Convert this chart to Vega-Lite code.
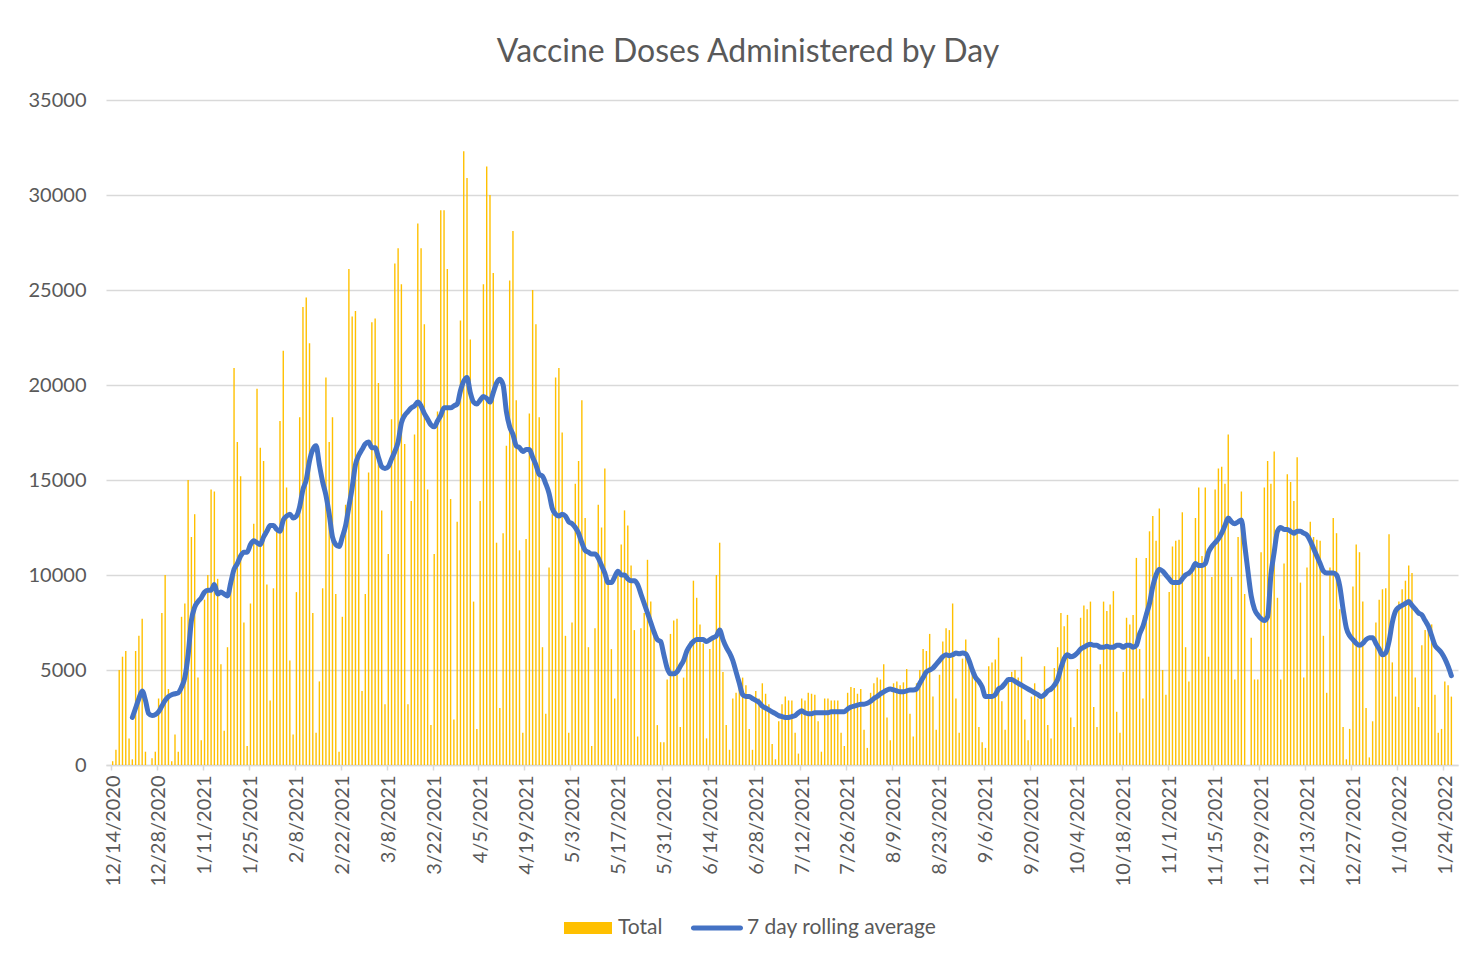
{
"$schema": "https://vega.github.io/schema/vega-lite/v6.json",
"width": 1352, "height": 665,
"autosize": {"type": "none"},
"padding": {"left": 106, "top": 100, "right": 24, "bottom": 197},
"background": "white",
"config": {"font": "Lato", "view": {"stroke": null}},
"title": {"text": "Vaccine Doses Administered by Day", "fontSize": 32, "fontWeight": "normal", "color": "#595959", "font": "Lato", "anchor": "middle", "frame": "group", "dx": -34, "offset": 21},
"data": {"values": [
{"date":"2020-12-14","total":200,"avg":null},
{"date":"2020-12-15","total":800,"avg":null},
{"date":"2020-12-16","total":5000,"avg":null},
{"date":"2020-12-17","total":5700,"avg":null},
{"date":"2020-12-18","total":6000,"avg":null},
{"date":"2020-12-19","total":1400,"avg":null},
{"date":"2020-12-20","total":300,"avg":2500},
{"date":"2020-12-21","total":6000,"avg":3000},
{"date":"2020-12-22","total":6800,"avg":3500},
{"date":"2020-12-23","total":7700,"avg":3900},
{"date":"2020-12-24","total":700,"avg":3400},
{"date":"2020-12-25","total":0,"avg":2700},
{"date":"2020-12-26","total":350,"avg":2600},
{"date":"2020-12-27","total":700,"avg":2650},
{"date":"2020-12-28","total":3500,"avg":2800},
{"date":"2020-12-29","total":8000,"avg":3100},
{"date":"2020-12-30","total":10000,"avg":3400},
{"date":"2020-12-31","total":4000,"avg":3600},
{"date":"2021-01-01","total":200,"avg":3700},
{"date":"2021-01-02","total":1600,"avg":3750},
{"date":"2021-01-03","total":700,"avg":3800},
{"date":"2021-01-04","total":7800,"avg":4100},
{"date":"2021-01-05","total":8500,"avg":4600},
{"date":"2021-01-06","total":15000,"avg":5800},
{"date":"2021-01-07","total":12000,"avg":7600},
{"date":"2021-01-08","total":13200,"avg":8300},
{"date":"2021-01-09","total":4600,"avg":8600},
{"date":"2021-01-10","total":1300,"avg":8800},
{"date":"2021-01-11","total":8700,"avg":9100},
{"date":"2021-01-12","total":10000,"avg":9200},
{"date":"2021-01-13","total":14500,"avg":9200},
{"date":"2021-01-14","total":14400,"avg":9500},
{"date":"2021-01-15","total":9800,"avg":9000},
{"date":"2021-01-16","total":5300,"avg":9100},
{"date":"2021-01-17","total":1800,"avg":9000},
{"date":"2021-01-18","total":6200,"avg":8900},
{"date":"2021-01-19","total":10000,"avg":9600},
{"date":"2021-01-20","total":20900,"avg":10300},
{"date":"2021-01-21","total":17000,"avg":10600},
{"date":"2021-01-22","total":15200,"avg":11000},
{"date":"2021-01-23","total":7500,"avg":11200},
{"date":"2021-01-24","total":1000,"avg":11200},
{"date":"2021-01-25","total":8500,"avg":11600},
{"date":"2021-01-26","total":12700,"avg":11800},
{"date":"2021-01-27","total":19800,"avg":11700},
{"date":"2021-01-28","total":16700,"avg":11600},
{"date":"2021-01-29","total":16000,"avg":12000},
{"date":"2021-01-30","total":9500,"avg":12300},
{"date":"2021-01-31","total":3400,"avg":12600},
{"date":"2021-02-01","total":9300,"avg":12600},
{"date":"2021-02-02","total":12400,"avg":12400},
{"date":"2021-02-03","total":18100,"avg":12300},
{"date":"2021-02-04","total":21800,"avg":12900},
{"date":"2021-02-05","total":14600,"avg":13100},
{"date":"2021-02-06","total":5500,"avg":13200},
{"date":"2021-02-07","total":1600,"avg":13000},
{"date":"2021-02-08","total":9100,"avg":13100},
{"date":"2021-02-09","total":18300,"avg":13600},
{"date":"2021-02-10","total":24100,"avg":14500},
{"date":"2021-02-11","total":24600,"avg":15000},
{"date":"2021-02-12","total":22200,"avg":16000},
{"date":"2021-02-13","total":8000,"avg":16600},
{"date":"2021-02-14","total":1700,"avg":16800},
{"date":"2021-02-15","total":4400,"avg":15800},
{"date":"2021-02-16","total":9300,"avg":14900},
{"date":"2021-02-17","total":20400,"avg":14200},
{"date":"2021-02-18","total":17000,"avg":13200},
{"date":"2021-02-19","total":18300,"avg":12000},
{"date":"2021-02-20","total":9000,"avg":11600},
{"date":"2021-02-21","total":700,"avg":11500},
{"date":"2021-02-22","total":7800,"avg":12000},
{"date":"2021-02-23","total":13700,"avg":12600},
{"date":"2021-02-24","total":26100,"avg":13600},
{"date":"2021-02-25","total":23600,"avg":14600},
{"date":"2021-02-26","total":23900,"avg":15800},
{"date":"2021-02-27","total":16400,"avg":16300},
{"date":"2021-02-28","total":3900,"avg":16600},
{"date":"2021-03-01","total":9000,"avg":16900},
{"date":"2021-03-02","total":15400,"avg":17000},
{"date":"2021-03-03","total":23300,"avg":16700},
{"date":"2021-03-04","total":23500,"avg":16700},
{"date":"2021-03-05","total":20100,"avg":16200},
{"date":"2021-03-06","total":13400,"avg":15700},
{"date":"2021-03-07","total":3200,"avg":15600},
{"date":"2021-03-08","total":11100,"avg":15700},
{"date":"2021-03-09","total":18200,"avg":16100},
{"date":"2021-03-10","total":26400,"avg":16500},
{"date":"2021-03-11","total":27200,"avg":17000},
{"date":"2021-03-12","total":25300,"avg":18000},
{"date":"2021-03-13","total":16900,"avg":18400},
{"date":"2021-03-14","total":3200,"avg":18600},
{"date":"2021-03-15","total":13900,"avg":18800},
{"date":"2021-03-16","total":17400,"avg":18900},
{"date":"2021-03-17","total":28500,"avg":19100},
{"date":"2021-03-18","total":27200,"avg":18900},
{"date":"2021-03-19","total":23200,"avg":18500},
{"date":"2021-03-20","total":14500,"avg":18200},
{"date":"2021-03-21","total":2100,"avg":17900},
{"date":"2021-03-22","total":11100,"avg":17800},
{"date":"2021-03-23","total":18600,"avg":18100},
{"date":"2021-03-24","total":29200,"avg":18400},
{"date":"2021-03-25","total":29200,"avg":18800},
{"date":"2021-03-26","total":26100,"avg":18800},
{"date":"2021-03-27","total":14000,"avg":18800},
{"date":"2021-03-28","total":2400,"avg":18900},
{"date":"2021-03-29","total":12800,"avg":19000},
{"date":"2021-03-30","total":23400,"avg":19700},
{"date":"2021-03-31","total":32300,"avg":20200},
{"date":"2021-04-01","total":30900,"avg":20400},
{"date":"2021-04-02","total":22400,"avg":19600},
{"date":"2021-04-03","total":8600,"avg":19100},
{"date":"2021-04-04","total":1900,"avg":19000},
{"date":"2021-04-05","total":13900,"avg":19200},
{"date":"2021-04-06","total":25300,"avg":19400},
{"date":"2021-04-07","total":31500,"avg":19300},
{"date":"2021-04-08","total":30000,"avg":19100},
{"date":"2021-04-09","total":25900,"avg":19600},
{"date":"2021-04-10","total":11700,"avg":20100},
{"date":"2021-04-11","total":3000,"avg":20300},
{"date":"2021-04-12","total":12200,"avg":20000},
{"date":"2021-04-13","total":16800,"avg":18600},
{"date":"2021-04-14","total":25500,"avg":17800},
{"date":"2021-04-15","total":28100,"avg":17400},
{"date":"2021-04-16","total":19200,"avg":16800},
{"date":"2021-04-17","total":11300,"avg":16700},
{"date":"2021-04-18","total":1700,"avg":16500},
{"date":"2021-04-19","total":11900,"avg":16600},
{"date":"2021-04-20","total":18500,"avg":16600},
{"date":"2021-04-21","total":25000,"avg":16200},
{"date":"2021-04-22","total":23200,"avg":15800},
{"date":"2021-04-23","total":18300,"avg":15300},
{"date":"2021-04-24","total":6200,"avg":15200},
{"date":"2021-04-25","total":2700,"avg":14800},
{"date":"2021-04-26","total":10400,"avg":14300},
{"date":"2021-04-27","total":13200,"avg":13500},
{"date":"2021-04-28","total":20400,"avg":13200},
{"date":"2021-04-29","total":20900,"avg":13100},
{"date":"2021-04-30","total":17500,"avg":13200},
{"date":"2021-05-01","total":6800,"avg":13100},
{"date":"2021-05-02","total":1700,"avg":12800},
{"date":"2021-05-03","total":7500,"avg":12700},
{"date":"2021-05-04","total":14800,"avg":12500},
{"date":"2021-05-05","total":16000,"avg":12200},
{"date":"2021-05-06","total":19200,"avg":11700},
{"date":"2021-05-07","total":13000,"avg":11300},
{"date":"2021-05-08","total":6200,"avg":11200},
{"date":"2021-05-09","total":1000,"avg":11100},
{"date":"2021-05-10","total":7200,"avg":11100},
{"date":"2021-05-11","total":13700,"avg":10900},
{"date":"2021-05-12","total":12500,"avg":10500},
{"date":"2021-05-13","total":15600,"avg":10100},
{"date":"2021-05-14","total":9700,"avg":9600},
{"date":"2021-05-15","total":6100,"avg":9600},
{"date":"2021-05-16","total":3500,"avg":9900},
{"date":"2021-05-17","total":10100,"avg":10200},
{"date":"2021-05-18","total":11600,"avg":10000},
{"date":"2021-05-19","total":13400,"avg":10000},
{"date":"2021-05-20","total":12600,"avg":9800},
{"date":"2021-05-21","total":10500,"avg":9700},
{"date":"2021-05-22","total":7100,"avg":9700},
{"date":"2021-05-23","total":1500,"avg":9500},
{"date":"2021-05-24","total":7200,"avg":9000},
{"date":"2021-05-25","total":8000,"avg":8500},
{"date":"2021-05-26","total":10800,"avg":8000},
{"date":"2021-05-27","total":8600,"avg":7500},
{"date":"2021-05-28","total":6800,"avg":7000},
{"date":"2021-05-29","total":2100,"avg":6600},
{"date":"2021-05-30","total":1200,"avg":6500},
{"date":"2021-05-31","total":1200,"avg":5800},
{"date":"2021-06-01","total":4500,"avg":5100},
{"date":"2021-06-02","total":6900,"avg":4800},
{"date":"2021-06-03","total":7600,"avg":4800},
{"date":"2021-06-04","total":7700,"avg":4900},
{"date":"2021-06-05","total":2000,"avg":5200},
{"date":"2021-06-06","total":4600,"avg":5500},
{"date":"2021-06-07","total":6100,"avg":6000},
{"date":"2021-06-08","total":6500,"avg":6300},
{"date":"2021-06-09","total":9700,"avg":6500},
{"date":"2021-06-10","total":8800,"avg":6600},
{"date":"2021-06-11","total":7400,"avg":6600},
{"date":"2021-06-12","total":6400,"avg":6600},
{"date":"2021-06-13","total":1400,"avg":6500},
{"date":"2021-06-14","total":6100,"avg":6600},
{"date":"2021-06-15","total":6700,"avg":6700},
{"date":"2021-06-16","total":10000,"avg":6800},
{"date":"2021-06-17","total":11700,"avg":7100},
{"date":"2021-06-18","total":4900,"avg":6600},
{"date":"2021-06-19","total":2100,"avg":6200},
{"date":"2021-06-20","total":800,"avg":5900},
{"date":"2021-06-21","total":3500,"avg":5500},
{"date":"2021-06-22","total":3800,"avg":4900},
{"date":"2021-06-23","total":4200,"avg":4300},
{"date":"2021-06-24","total":4600,"avg":3700},
{"date":"2021-06-25","total":4200,"avg":3600},
{"date":"2021-06-26","total":1900,"avg":3600},
{"date":"2021-06-27","total":800,"avg":3500},
{"date":"2021-06-28","total":3900,"avg":3400},
{"date":"2021-06-29","total":3500,"avg":3300},
{"date":"2021-06-30","total":4300,"avg":3100},
{"date":"2021-07-01","total":3750,"avg":3000},
{"date":"2021-07-02","total":3200,"avg":2900},
{"date":"2021-07-03","total":1100,"avg":2800},
{"date":"2021-07-04","total":300,"avg":2700},
{"date":"2021-07-05","total":2300,"avg":2600},
{"date":"2021-07-06","total":3200,"avg":2550},
{"date":"2021-07-07","total":3600,"avg":2500},
{"date":"2021-07-08","total":3400,"avg":2500},
{"date":"2021-07-09","total":3400,"avg":2550},
{"date":"2021-07-10","total":1700,"avg":2600},
{"date":"2021-07-11","total":600,"avg":2750},
{"date":"2021-07-12","total":3500,"avg":2850},
{"date":"2021-07-13","total":3400,"avg":2750},
{"date":"2021-07-14","total":3800,"avg":2700},
{"date":"2021-07-15","total":3750,"avg":2700},
{"date":"2021-07-16","total":3700,"avg":2750},
{"date":"2021-07-17","total":2300,"avg":2750},
{"date":"2021-07-18","total":700,"avg":2750},
{"date":"2021-07-19","total":3500,"avg":2750},
{"date":"2021-07-20","total":3500,"avg":2750},
{"date":"2021-07-21","total":3400,"avg":2800},
{"date":"2021-07-22","total":3400,"avg":2800},
{"date":"2021-07-23","total":3400,"avg":2800},
{"date":"2021-07-24","total":1700,"avg":2800},
{"date":"2021-07-25","total":1000,"avg":2800},
{"date":"2021-07-26","total":3800,"avg":2950},
{"date":"2021-07-27","total":4100,"avg":3050},
{"date":"2021-07-28","total":4050,"avg":3100},
{"date":"2021-07-29","total":3750,"avg":3150},
{"date":"2021-07-30","total":4000,"avg":3200},
{"date":"2021-07-31","total":1850,"avg":3200},
{"date":"2021-08-01","total":900,"avg":3250},
{"date":"2021-08-02","total":3800,"avg":3350},
{"date":"2021-08-03","total":4300,"avg":3500},
{"date":"2021-08-04","total":4600,"avg":3600},
{"date":"2021-08-05","total":4500,"avg":3750},
{"date":"2021-08-06","total":5300,"avg":3850},
{"date":"2021-08-07","total":2500,"avg":3950},
{"date":"2021-08-08","total":1300,"avg":4000},
{"date":"2021-08-09","total":4300,"avg":3950},
{"date":"2021-08-10","total":4400,"avg":3900},
{"date":"2021-08-11","total":4200,"avg":3850},
{"date":"2021-08-12","total":4350,"avg":3850},
{"date":"2021-08-13","total":5050,"avg":3900},
{"date":"2021-08-14","total":2700,"avg":3950},
{"date":"2021-08-15","total":1500,"avg":3950},
{"date":"2021-08-16","total":4300,"avg":4000},
{"date":"2021-08-17","total":5000,"avg":4300},
{"date":"2021-08-18","total":6100,"avg":4600},
{"date":"2021-08-19","total":6000,"avg":4900},
{"date":"2021-08-20","total":6900,"avg":5000},
{"date":"2021-08-21","total":3600,"avg":5100},
{"date":"2021-08-22","total":1850,"avg":5300},
{"date":"2021-08-23","total":4750,"avg":5500},
{"date":"2021-08-24","total":6500,"avg":5700},
{"date":"2021-08-25","total":7200,"avg":5800},
{"date":"2021-08-26","total":7100,"avg":5750},
{"date":"2021-08-27","total":8500,"avg":5800},
{"date":"2021-08-28","total":3500,"avg":5900},
{"date":"2021-08-29","total":1700,"avg":5850},
{"date":"2021-08-30","total":5600,"avg":5900},
{"date":"2021-08-31","total":6600,"avg":5850},
{"date":"2021-09-01","total":5600,"avg":5500},
{"date":"2021-09-02","total":5300,"avg":5000},
{"date":"2021-09-03","total":4600,"avg":4600},
{"date":"2021-09-04","total":2000,"avg":4400},
{"date":"2021-09-05","total":1200,"avg":4100},
{"date":"2021-09-06","total":900,"avg":3600},
{"date":"2021-09-07","total":5200,"avg":3600},
{"date":"2021-09-08","total":5400,"avg":3600},
{"date":"2021-09-09","total":5550,"avg":3700},
{"date":"2021-09-10","total":6700,"avg":4000},
{"date":"2021-09-11","total":3350,"avg":4100},
{"date":"2021-09-12","total":1850,"avg":4300},
{"date":"2021-09-13","total":4500,"avg":4500},
{"date":"2021-09-14","total":4900,"avg":4500},
{"date":"2021-09-15","total":5000,"avg":4400},
{"date":"2021-09-16","total":4600,"avg":4300},
{"date":"2021-09-17","total":5700,"avg":4200},
{"date":"2021-09-18","total":2400,"avg":4100},
{"date":"2021-09-19","total":1300,"avg":4000},
{"date":"2021-09-20","total":3600,"avg":3900},
{"date":"2021-09-21","total":4300,"avg":3800},
{"date":"2021-09-22","total":3500,"avg":3700},
{"date":"2021-09-23","total":3500,"avg":3600},
{"date":"2021-09-24","total":5200,"avg":3700},
{"date":"2021-09-25","total":2100,"avg":3900},
{"date":"2021-09-26","total":1400,"avg":4000},
{"date":"2021-09-27","total":5100,"avg":4200},
{"date":"2021-09-28","total":6200,"avg":4500},
{"date":"2021-09-29","total":8000,"avg":5100},
{"date":"2021-09-30","total":7300,"avg":5600},
{"date":"2021-10-01","total":7900,"avg":5800},
{"date":"2021-10-02","total":2500,"avg":5700},
{"date":"2021-10-03","total":2000,"avg":5750},
{"date":"2021-10-04","total":5050,"avg":5900},
{"date":"2021-10-05","total":7750,"avg":6100},
{"date":"2021-10-06","total":8400,"avg":6200},
{"date":"2021-10-07","total":8200,"avg":6300},
{"date":"2021-10-08","total":8600,"avg":6350},
{"date":"2021-10-09","total":3050,"avg":6300},
{"date":"2021-10-10","total":2000,"avg":6300},
{"date":"2021-10-11","total":5300,"avg":6200},
{"date":"2021-10-12","total":8600,"avg":6200},
{"date":"2021-10-13","total":8100,"avg":6250},
{"date":"2021-10-14","total":8450,"avg":6200},
{"date":"2021-10-15","total":9150,"avg":6200},
{"date":"2021-10-16","total":2800,"avg":6300},
{"date":"2021-10-17","total":1700,"avg":6300},
{"date":"2021-10-18","total":4900,"avg":6200},
{"date":"2021-10-19","total":7750,"avg":6300},
{"date":"2021-10-20","total":7400,"avg":6300},
{"date":"2021-10-21","total":7900,"avg":6200},
{"date":"2021-10-22","total":10900,"avg":6300},
{"date":"2021-10-23","total":6100,"avg":6900},
{"date":"2021-10-24","total":3500,"avg":7300},
{"date":"2021-10-25","total":10900,"avg":7900},
{"date":"2021-10-26","total":12300,"avg":8500},
{"date":"2021-10-27","total":13100,"avg":9400},
{"date":"2021-10-28","total":11800,"avg":10000},
{"date":"2021-10-29","total":13500,"avg":10300},
{"date":"2021-10-30","total":5000,"avg":10200},
{"date":"2021-10-31","total":3700,"avg":10000},
{"date":"2021-11-01","total":9100,"avg":9800},
{"date":"2021-11-02","total":11500,"avg":9600},
{"date":"2021-11-03","total":11800,"avg":9600},
{"date":"2021-11-04","total":11850,"avg":9600},
{"date":"2021-11-05","total":13300,"avg":9800},
{"date":"2021-11-06","total":6200,"avg":10000},
{"date":"2021-11-07","total":4400,"avg":10100},
{"date":"2021-11-08","total":10400,"avg":10300},
{"date":"2021-11-09","total":13000,"avg":10600},
{"date":"2021-11-10","total":14600,"avg":10500},
{"date":"2021-11-11","total":11000,"avg":10500},
{"date":"2021-11-12","total":14600,"avg":10600},
{"date":"2021-11-13","total":5700,"avg":11200},
{"date":"2021-11-14","total":9900,"avg":11500},
{"date":"2021-11-15","total":14500,"avg":11700},
{"date":"2021-11-16","total":15600,"avg":11900},
{"date":"2021-11-17","total":15700,"avg":12200},
{"date":"2021-11-18","total":14800,"avg":12600},
{"date":"2021-11-19","total":17400,"avg":13000},
{"date":"2021-11-20","total":9900,"avg":12800},
{"date":"2021-11-21","total":4500,"avg":12700},
{"date":"2021-11-22","total":12000,"avg":12800},
{"date":"2021-11-23","total":14400,"avg":12900},
{"date":"2021-11-24","total":9000,"avg":11600},
{"date":"2021-11-25","total":0,"avg":10200},
{"date":"2021-11-26","total":6700,"avg":8900},
{"date":"2021-11-27","total":4500,"avg":8200},
{"date":"2021-11-28","total":4500,"avg":7900},
{"date":"2021-11-29","total":11200,"avg":7700},
{"date":"2021-11-30","total":14600,"avg":7600},
{"date":"2021-12-01","total":16000,"avg":7800},
{"date":"2021-12-02","total":14800,"avg":10000},
{"date":"2021-12-03","total":16500,"avg":11200},
{"date":"2021-12-04","total":8800,"avg":12300},
{"date":"2021-12-05","total":4500,"avg":12500},
{"date":"2021-12-06","total":10600,"avg":12400},
{"date":"2021-12-07","total":15300,"avg":12400},
{"date":"2021-12-08","total":14900,"avg":12300},
{"date":"2021-12-09","total":13900,"avg":12200},
{"date":"2021-12-10","total":16200,"avg":12300},
{"date":"2021-12-11","total":9600,"avg":12300},
{"date":"2021-12-12","total":4600,"avg":12200},
{"date":"2021-12-13","total":10400,"avg":12100},
{"date":"2021-12-14","total":12800,"avg":11800},
{"date":"2021-12-15","total":12000,"avg":11400},
{"date":"2021-12-16","total":11850,"avg":11000},
{"date":"2021-12-17","total":11800,"avg":10600},
{"date":"2021-12-18","total":6800,"avg":10200},
{"date":"2021-12-19","total":3800,"avg":10100},
{"date":"2021-12-20","total":10400,"avg":10100},
{"date":"2021-12-21","total":13000,"avg":10100},
{"date":"2021-12-22","total":12200,"avg":10000},
{"date":"2021-12-23","total":8200,"avg":9400},
{"date":"2021-12-24","total":2000,"avg":8200},
{"date":"2021-12-25","total":300,"avg":7200},
{"date":"2021-12-26","total":1900,"avg":6800},
{"date":"2021-12-27","total":9400,"avg":6600},
{"date":"2021-12-28","total":11600,"avg":6400},
{"date":"2021-12-29","total":11200,"avg":6300},
{"date":"2021-12-30","total":8600,"avg":6400},
{"date":"2021-12-31","total":3000,"avg":6600},
{"date":"2022-01-01","total":400,"avg":6700},
{"date":"2022-01-02","total":2300,"avg":6700},
{"date":"2022-01-03","total":7500,"avg":6400},
{"date":"2022-01-04","total":8700,"avg":6100},
{"date":"2022-01-05","total":9250,"avg":5800},
{"date":"2022-01-06","total":9300,"avg":5900},
{"date":"2022-01-07","total":12150,"avg":6500},
{"date":"2022-01-08","total":5400,"avg":7500},
{"date":"2022-01-09","total":3600,"avg":8100},
{"date":"2022-01-10","total":8600,"avg":8300},
{"date":"2022-01-11","total":9250,"avg":8400},
{"date":"2022-01-12","total":9700,"avg":8500},
{"date":"2022-01-13","total":10500,"avg":8600},
{"date":"2022-01-14","total":10100,"avg":8400},
{"date":"2022-01-15","total":4600,"avg":8200},
{"date":"2022-01-16","total":3050,"avg":8000},
{"date":"2022-01-17","total":6300,"avg":7900},
{"date":"2022-01-18","total":7100,"avg":7600},
{"date":"2022-01-19","total":7450,"avg":7300},
{"date":"2022-01-20","total":7400,"avg":6800},
{"date":"2022-01-21","total":3700,"avg":6300},
{"date":"2022-01-22","total":1700,"avg":6100},
{"date":"2022-01-23","total":1900,"avg":5900},
{"date":"2022-01-24","total":4400,"avg":5600},
{"date":"2022-01-25","total":4200,"avg":5200},
{"date":"2022-01-26","total":3600,"avg":4700}
]},
"layer": [
{"mark": {"type": "bar", "width": 1.4, "xOffset": 1.65},
 "encoding": {
  "x": {"field": "date", "type": "temporal",
   "scale": {"type": "utc", "domain": [{"year": 2020, "month": 12, "date": 14, "utc": true}, {"year": 2022, "month": 1, "date": 27, "utc": true}]},
   "axis": {"title": null, "grid": false, "format": "%-m/%-d/%Y", "labelAngle": 270, "labelAlign": "right", "labelBaseline": "middle", "labelFontSize": 20, "labelColor": "#595959", "labelFont": "Lato", "labelPadding": 5, "labelOffset": 2, "labelOverlap": false, "labelFlush": false, "labelBound": false, "tickSize": 5, "tickColor": "#d9d9d9", "tickWidth": 1.5, "domainColor": "#d9d9d9", "domainWidth": 1.5,
    "values": [
     {"year": 2020, "month": 12, "date": 14, "utc": true},
     {"year": 2020, "month": 12, "date": 28, "utc": true},
     {"year": 2021, "month": 1, "date": 11, "utc": true},
     {"year": 2021, "month": 1, "date": 25, "utc": true},
     {"year": 2021, "month": 2, "date": 8, "utc": true},
     {"year": 2021, "month": 2, "date": 22, "utc": true},
     {"year": 2021, "month": 3, "date": 8, "utc": true},
     {"year": 2021, "month": 3, "date": 22, "utc": true},
     {"year": 2021, "month": 4, "date": 5, "utc": true},
     {"year": 2021, "month": 4, "date": 19, "utc": true},
     {"year": 2021, "month": 5, "date": 3, "utc": true},
     {"year": 2021, "month": 5, "date": 17, "utc": true},
     {"year": 2021, "month": 5, "date": 31, "utc": true},
     {"year": 2021, "month": 6, "date": 14, "utc": true},
     {"year": 2021, "month": 6, "date": 28, "utc": true},
     {"year": 2021, "month": 7, "date": 12, "utc": true},
     {"year": 2021, "month": 7, "date": 26, "utc": true},
     {"year": 2021, "month": 8, "date": 9, "utc": true},
     {"year": 2021, "month": 8, "date": 23, "utc": true},
     {"year": 2021, "month": 9, "date": 6, "utc": true},
     {"year": 2021, "month": 9, "date": 20, "utc": true},
     {"year": 2021, "month": 10, "date": 4, "utc": true},
     {"year": 2021, "month": 10, "date": 18, "utc": true},
     {"year": 2021, "month": 11, "date": 1, "utc": true},
     {"year": 2021, "month": 11, "date": 15, "utc": true},
     {"year": 2021, "month": 11, "date": 29, "utc": true},
     {"year": 2021, "month": 12, "date": 13, "utc": true},
     {"year": 2021, "month": 12, "date": 27, "utc": true},
     {"year": 2022, "month": 1, "date": 10, "utc": true},
     {"year": 2022, "month": 1, "date": 24, "utc": true}
    ]}},
  "y": {"field": "total", "type": "quantitative",
   "scale": {"domain": [0, 35000], "nice": false},
   "axis": {"title": null, "values": [0, 5000, 10000, 15000, 20000, 25000, 30000, 35000], "format": "d", "grid": true, "gridColor": "#d9d9d9", "gridWidth": 1.5, "domain": false, "ticks": false, "labelPadding": 20, "labelFontSize": 20, "labelColor": "#595959", "labelFont": "Lato"}},
  "color": {"datum": "Total", "type": "nominal",
   "scale": {"domain": ["Total", "7 day rolling average"], "range": ["#FFC000", "#4472C4"]},
   "legend": {"orient": "none", "legendX": 470, "legendY": 816, "direction": "horizontal", "title": null, "labelFontSize": 21, "labelFont": "Lato", "labelColor": "#595959", "labelLimit": 0, "symbolSize": 576, "labelOffset": 18, "columnPadding": 27, "symbolStrokeWidth": 0,
    "encode": {"symbols": {"update": {
     "shape": {"signal": "datum.value === 'Total' ? 'M-2,-0.5H2V0.5H-2Z' : 'M-1.96,-0.21H1.96A0.21,0.21 0 0 1 1.96,0.21H-1.96A0.21,0.21 0 0 1 -1.96,-0.21Z'"},
     "fill": {"signal": "datum.value === 'Total' ? '#FFC000' : '#4472C4'"},
     "fillOpacity": {"value": 1},
     "strokeWidth": {"value": 0}}}}}}
 }},
{"mark": {"type": "line", "strokeWidth": 5, "interpolate": "monotone", "strokeCap": "round", "strokeJoin": "round", "xOffset": 1.65},
 "encoding": {
  "x": {"field": "date", "type": "temporal"},
  "y": {"field": "avg", "type": "quantitative"},
  "color": {"datum": "7 day rolling average", "type": "nominal"}
 }}
]
}
